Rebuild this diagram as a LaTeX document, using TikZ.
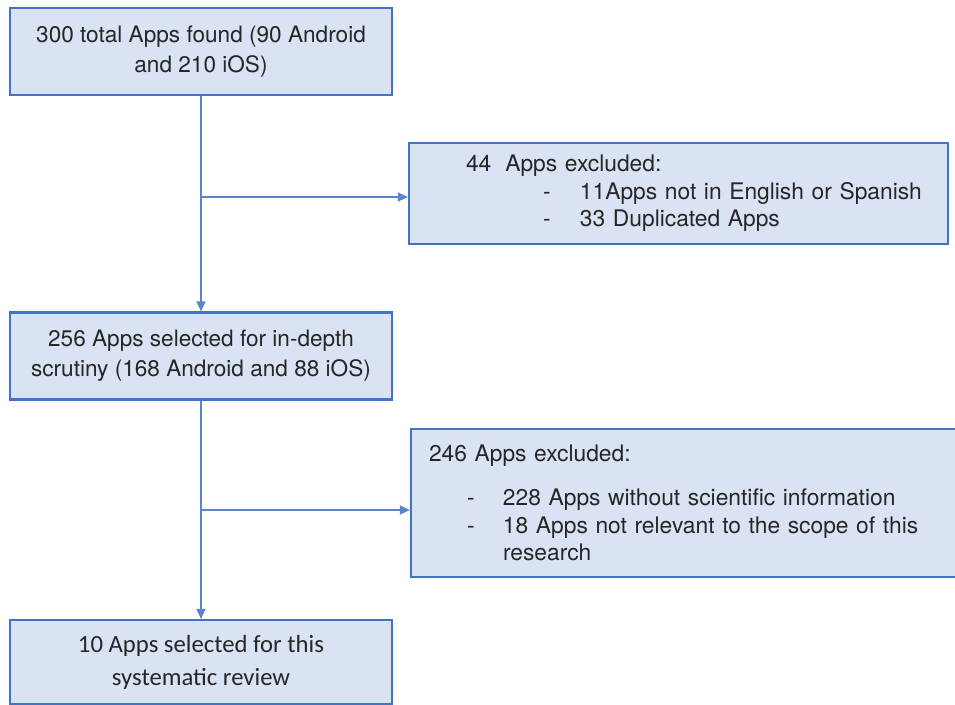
\documentclass[tikz,border=0pt]{standalone}
\usepackage{fontspec}
\setmainfont{TeX Gyre Heros}
\newfontfamily\calibri{Carlito}
\usetikzlibrary{arrows.meta}

\begin{document}
\begin{tikzpicture}[x=1pt,y=-1pt,every node/.style={font=\fontsize{22.6}{30}\selectfont}]
	% Define colors
	\definecolor{boxfill}{RGB}{218,227,243}
	\definecolor{boxline}{RGB}{68,114,196}
	\definecolor{flowline}{RGB}{90,130,205}

	% Styles
	\tikzstyle{stage_box} = [fill=boxfill, draw=boxline, line width=2.2pt, minimum width=382pt, minimum height=87pt, align=center, inner sep=0pt, text=black!85]
	\tikzstyle{excl_box} = [fill=boxfill, draw=boxline, line width=2.2pt, align=left, inner ysep=0pt, text=black!85, font=\fontsize{22.8}{27.5}\selectfont]
	\tikzstyle{flow} = [draw=flowline, line width=1.3pt, -{Triangle[length=10pt,width=9pt]}]

	% Canvas
	\useasboundingbox (0,0) rectangle (955,704);

	% Main stages (left)
	\node[stage_box] (found) at (201,51.5) {300 total Apps found (90 Android\\and 210 iOS)};
	\node[stage_box] (screen) at (201,356) {256 Apps selected for in-depth\\scrutiny (168 Android and 88 iOS)};
	\node[stage_box, minimum height=84pt, font=\calibri\fontsize{24.7}{33}\selectfont] (review) at (201,662) {10 Apps selected for this\\systematic review};

	% Exclusion boxes (right)
	\node[excl_box, minimum width=539pt, minimum height=101pt, inner xsep=57pt, text width=425pt] (excl1) at (678.5,193.5) {\mbox{44\hspace{14pt}Apps excluded:}\\
		\mbox{\hspace*{77pt}\makebox[37pt][l]{-}11Apps not in English or Spanish}\\
		\mbox{\hspace*{77pt}\makebox[37pt][l]{-}33 Duplicated Apps}};
	\node[excl_box, minimum width=547pt, minimum height=148pt, inner xsep=18pt, text width=511pt] (excl2) at (684.5,503) {\mbox{246 Apps excluded:}\\[17pt]
		\mbox{\hspace*{38pt}\makebox[36pt][l]{-}228 Apps without scientific information}\\
		\mbox{\hspace*{38pt}\makebox[36pt][l]{-}18 Apps not relevant to the scope of this}\\
		\mbox{\hspace*{74pt}research}};

	% Split points
	\coordinate (split1) at (201,197);
	\coordinate (split2) at (201,510);

	% Connectors
	\draw[flow] (found.south) -- (screen.north);
	\draw[flow] (split1) -- (split1 -| excl1.west);
	\draw[flow] (screen.south) -- (review.north);
	\draw[flow] (split2) -- (split2 -| excl2.west);

\end{tikzpicture}
\end{document}
